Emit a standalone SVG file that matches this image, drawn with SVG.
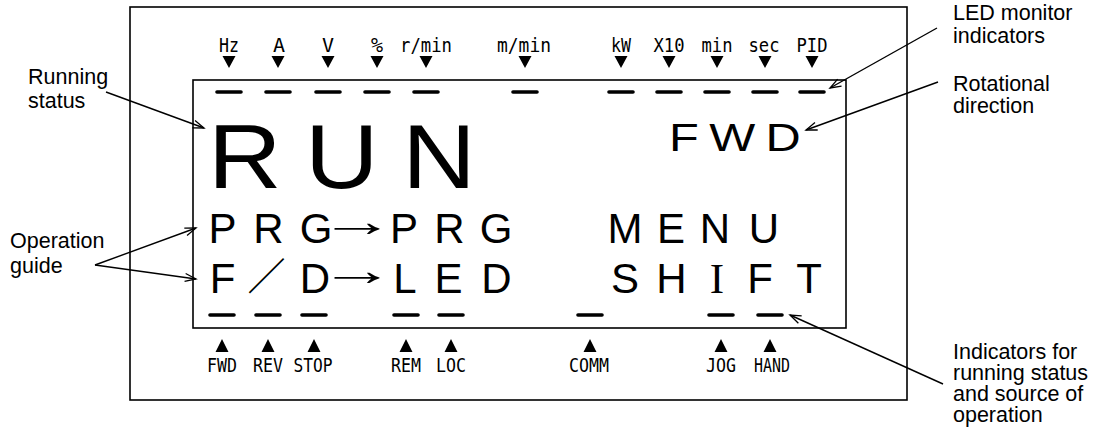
<svg xmlns="http://www.w3.org/2000/svg" width="1099" height="436" viewBox="0 0 1099 436">
<style>
.box{fill:none;stroke:#000;stroke-width:1.6}
.dash{stroke:#000;stroke-width:3.6;stroke-linecap:round}
.tri{fill:#000}
.ind{font-family:"DejaVu Sans Mono","Liberation Mono",monospace;font-size:20px;fill:#000;text-anchor:middle}
.lcd{font-family:"Liberation Sans",Arial,sans-serif;fill:#000;text-anchor:middle}
.arrowch{font-family:"Liberation Sans",Arial,sans-serif;font-size:44px;fill:#000;text-anchor:middle}
.note{font-family:"Liberation Sans",Arial,sans-serif;font-size:21.5px;fill:#000}
.conn{fill:none;stroke:#000;stroke-width:1.4}
</style>
<defs>
<marker id="arr" viewBox="-13 -6 15 12" refX="0" refY="0" markerWidth="15" markerHeight="12" markerUnits="userSpaceOnUse" orient="auto">
<path d="M-11,-4 L0,0 L-11,4" fill="none" stroke="#000" stroke-width="1.3"/>
</marker>
</defs>

<g id="panel">
<rect class="box" x="130" y="7" width="777" height="393"/>
<rect class="box" x="193" y="80" width="653" height="248"/>
</g>

<g id="top-indicators">
<text class="ind" x="229" y="52" textLength="20" lengthAdjust="spacingAndGlyphs">Hz</text>
<text class="ind" x="279" y="52">A</text>
<text class="ind" x="328" y="52">V</text>
<text class="ind" x="377" y="52">%</text>
<text class="ind" x="426" y="52" textLength="52" lengthAdjust="spacingAndGlyphs">r/min</text>
<text class="ind" x="524" y="52" textLength="54" lengthAdjust="spacingAndGlyphs">m/min</text>
<text class="ind" x="621" y="52" textLength="20" lengthAdjust="spacingAndGlyphs">kW</text>
<text class="ind" x="669" y="52" textLength="31" lengthAdjust="spacingAndGlyphs">X10</text>
<text class="ind" x="717" y="52" textLength="31" lengthAdjust="spacingAndGlyphs">min</text>
<text class="ind" x="764" y="52" textLength="31" lengthAdjust="spacingAndGlyphs">sec</text>
<text class="ind" x="812" y="52" textLength="31" lengthAdjust="spacingAndGlyphs">PID</text>
<path class="tri" d="M222.5,56h13l-6.5,12z M271.5,56h13l-6.5,12z M321.5,56h13l-6.5,12z M370.5,56h13l-6.5,12z M419.5,56h13l-6.5,12z M518.5,56h13l-6.5,12z M614.5,56h13l-6.5,12z M662.5,56h13l-6.5,12z M710.5,56h13l-6.5,12z M758.5,56h13l-6.5,12z M805.5,56h13l-6.5,12z"/>
<path class="dash" d="M217,92h24 M266,92h24 M316,92h24 M365,92h24 M414,92h24 M513,92h24 M609,92h24 M657,92h24 M705,92h24 M753,92h24 M800,92h24"/>
</g>

<g id="bottom-indicators">
<path class="dash" d="M210,315h24 M256,315h24 M302,315h24 M394,315h24 M439,315h24 M578,315h24 M709,315h24 M758,315h24"/>
<path class="tri" d="M222,339l6.5,13h-13z M268,339l6.5,13h-13z M314,339l6.5,13h-13z M406,339l6.5,13h-13z M451,339l6.5,13h-13z M590,339l6.5,13h-13z M721,339l6.5,13h-13z M770,339l6.5,13h-13z"/>
<text class="ind" x="222" y="372" textLength="30" lengthAdjust="spacingAndGlyphs">FWD</text>
<text class="ind" x="268" y="372" textLength="30" lengthAdjust="spacingAndGlyphs">REV</text>
<text class="ind" x="313" y="372" textLength="39" lengthAdjust="spacingAndGlyphs">STOP</text>
<text class="ind" x="406" y="372" textLength="30" lengthAdjust="spacingAndGlyphs">REM</text>
<text class="ind" x="451" y="372" textLength="30" lengthAdjust="spacingAndGlyphs">LOC</text>
<text class="ind" x="589" y="372" textLength="40" lengthAdjust="spacingAndGlyphs">COMM</text>
<text class="ind" x="721" y="372" textLength="30" lengthAdjust="spacingAndGlyphs">JOG</text>
<text class="ind" x="772" y="372" textLength="36" lengthAdjust="spacingAndGlyphs">HAND</text>
</g>

<g id="lcd-text">
<text class="lcd" font-size="91" style="text-anchor:start" letter-spacing="21" transform="translate(208,188) scale(1.12,1)">RUN</text>
<text class="lcd" font-size="39" style="text-anchor:start" letter-spacing="8.3" transform="translate(669,151) scale(1.25,1)">FWD</text>
<text class="lcd" font-size="42" y="243"><tspan x="222.5">P</tspan><tspan x="268.5">R</tspan><tspan x="316">G</tspan></text>
<text class="arrowch" x="357" y="236" textLength="76" lengthAdjust="spacingAndGlyphs">→</text>
<text class="lcd" font-size="42" y="243"><tspan x="404">P</tspan><tspan x="449.5">R</tspan><tspan x="496">G</tspan><tspan x="625">M</tspan><tspan x="671">E</tspan><tspan x="715">N</tspan><tspan x="764">U</tspan></text>
<text class="lcd" font-size="42" y="293"><tspan x="222.5">F</tspan></text>
<text class="lcd" font-size="38" y="290" x="266.5" style="font-family:'Noto Sans CJK JP','Noto Sans CJK SC',sans-serif">／</text>
<text class="lcd" font-size="42" y="293"><tspan x="315">D</tspan></text>
<text class="arrowch" x="357" y="285" textLength="76" lengthAdjust="spacingAndGlyphs">→</text>
<text class="lcd" font-size="42" y="293"><tspan x="405">L</tspan><tspan x="448.5">E</tspan><tspan x="496.5">D</tspan><tspan x="625">S</tspan><tspan x="671.5">H</tspan><tspan x="717" font-family="'Liberation Serif',serif" font-size="43">I</tspan><tspan x="760">F</tspan><tspan x="809">T</tspan></text>
</g>

<g id="label-running">
<text class="note" x="28" y="84">Running</text>
<text class="note" x="28" y="108">status</text>
</g>
<g id="label-operation">
<text class="note" x="10" y="248">Operation</text>
<text class="note" x="10" y="273">guide</text>
</g>
<g id="label-led">
<text class="note" x="953" y="20">LED monitor</text>
<text class="note" x="953" y="43">indicators</text>
</g>
<g id="label-rotation">
<text class="note" x="953" y="91">Rotational</text>
<text class="note" x="953" y="113">direction</text>
</g>
<g id="label-indicators">
<text class="note" x="953" y="359">Indicators for</text>
<text class="note" x="953" y="380">running status</text>
<text class="note" x="953" y="401">and source of</text>
<text class="note" x="953" y="422">operation</text>
</g>

<g id="connectors">
<path class="conn" marker-end="url(#arr)" d="M106,92 L204,128"/>
<path class="conn" marker-end="url(#arr)" d="M95,265 L196,228"/>
<path class="conn" marker-end="url(#arr)" d="M95,265 L196,279"/>
<path class="conn" marker-end="url(#arr)" d="M937,28 L830,88"/>
<path class="conn" marker-end="url(#arr)" d="M938,82 L806,130"/>
<path class="conn" marker-end="url(#arr)" d="M943,384 L790,315"/>
</g>
</svg>
